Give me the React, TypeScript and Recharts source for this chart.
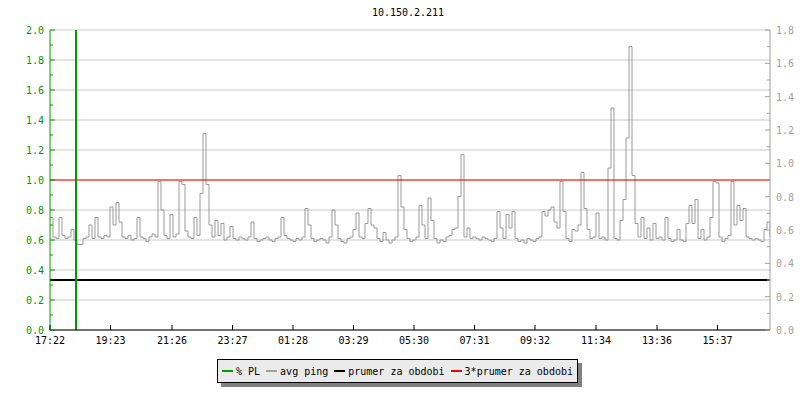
import React from "react";
import { ComposedChart, Line, XAxis, YAxis, CartesianGrid } from "recharts";

const FONT = "'DejaVu Sans Mono', monospace";
const GREEN = "#009900";
const GRAY = "#999999";
const AXIS_GRAY = "#a0a0a0";
const GRID = "#c8c8c8";
const RED = "#ff0000";
const BLACK = "#000000";

const TITLE = "10.150.2.211";

// one sample every 6 minutes, starting at 17:22
const STEP_MIN = 6;
const avgPing: number[] = [
  0.75, 0.62, 0.61, 0.75, 0.63, 0.61, 0.62, 0.67, 0.60, 0.57,
  0.57, 0.61, 0.62, 0.70, 0.61, 0.75, 0.62, 0.61, 0.63, 0.62,
  0.82, 0.70, 0.85, 0.72, 0.62, 0.61, 0.63, 0.60, 0.61, 0.75,
  0.62, 0.61, 0.59, 0.62, 0.64, 0.62, 0.99, 0.80, 0.63, 0.61,
  0.77, 0.62, 0.64, 0.99, 0.97, 0.66, 0.62, 0.61, 0.75, 0.63,
  0.91, 1.31, 0.97, 0.70, 0.62, 0.73, 0.63, 0.71, 0.60, 0.62,
  0.69, 0.61, 0.60, 0.62, 0.61, 0.60, 0.62, 0.72, 0.61, 0.59,
  0.60, 0.61, 0.62, 0.60, 0.59, 0.61, 0.62, 0.75, 0.63, 0.61,
  0.60, 0.59, 0.61, 0.60, 0.62, 0.81, 0.70, 0.61, 0.59, 0.60,
  0.61, 0.60, 0.58, 0.62, 0.80, 0.70, 0.61, 0.59, 0.58, 0.61,
  0.62, 0.67, 0.78, 0.62, 0.61, 0.71, 0.81, 0.70, 0.68, 0.61,
  0.59, 0.65, 0.60, 0.58, 0.60, 0.62, 1.03, 0.82, 0.67, 0.61,
  0.59, 0.60, 0.62, 0.83, 0.70, 0.61, 0.88, 0.73, 0.61, 0.58,
  0.60, 0.59, 0.62, 0.63, 0.67, 0.68, 0.89, 1.17, 0.62, 0.68,
  0.61, 0.62, 0.61, 0.60, 0.62, 0.61, 0.60, 0.59, 0.61, 0.79,
  0.68, 0.61, 0.77, 0.68, 0.79, 0.61, 0.59, 0.60, 0.58, 0.61,
  0.60, 0.59, 0.61, 0.62, 0.79, 0.76, 0.80, 0.82, 0.72, 0.68,
  0.99, 0.79, 0.61, 0.59, 0.67, 0.66, 0.70, 1.05, 0.81, 0.67,
  0.61, 0.62, 0.78, 0.61, 0.62, 0.60, 1.08, 1.48, 0.61, 0.60,
  0.73, 0.87, 1.28, 1.89, 1.03, 0.71, 0.62, 0.75, 0.61, 0.68,
  0.60, 0.71, 0.61, 0.62, 0.60, 0.75, 0.61, 0.59, 0.60, 0.67,
  0.60, 0.59, 0.71, 0.83, 0.71, 0.87, 0.61, 0.67, 0.60, 0.62,
  0.75, 0.99, 0.98, 0.62, 0.59, 0.61, 0.63, 0.99, 0.70, 0.83,
  0.73, 0.81, 0.62, 0.61, 0.60, 0.61, 0.60, 0.59, 0.67, 0.72,
  0.62,
];

// average for the period (right axis units) and 3x average
const prumer = 0.3;
const prumer3 = 0.9;

// packet loss event
const plTimes = [52, 52];
const plValues = [0, 2.0];

// x ticks (minutes since 17:22) and their labels
const xTickMinutes = [0, 121, 244, 365, 486, 607, 728, 849, 970, 1092, 1214, 1335];
const xTickLabels = ["17:22", "19:23", "21:26", "23:27", "01:28", "03:29", "05:30", "07:31", "09:32", "11:34", "13:36", "15:37"];

const leftTicks = [0, 0.2, 0.4, 0.6, 0.8, 1.0, 1.2, 1.4, 1.6, 1.8, 2.0];
const rightTicks = [0, 0.2, 0.4, 0.6, 0.8, 1.0, 1.2, 1.4, 1.6, 1.8];

const legendNames = ["% PL", "avg ping", "prumer za obdobi", "3*prumer za obdobi"];
const legendColors = [GREEN, "#a0a0a0", BLACK, RED];

const rows = avgPing.map((v, i) => ({
  t: i * STEP_MIN,
  ping: v,
  prumer: prumer,
  prumer3: prumer3,
}));
const plData = plTimes.map((t, i) => ({ t, pl: plValues[i] }));

const PLOT_H = 300;

const LeftTick = (props: any) => {
  const { x, y, payload } = props;
  const v = payload.value as number;
  const minor = PLOT_H / 20;
  return (
    <g>
      <line x1={x} x2={x + 5} y1={y} y2={y} stroke={GREEN} />
      {v < 2 && <line x1={x} x2={x + 3} y1={y - minor} y2={y - minor} stroke={GREEN} />}
      <text x={x - 6} y={y + 4} textAnchor="end" fill={GREEN} fontSize={10} fontFamily={FONT}>
        {v.toFixed(1)}
      </text>
    </g>
  );
};

const RightTick = (props: any) => {
  const { x, y, payload } = props;
  const v = payload.value as number;
  const minor = PLOT_H / 18;
  return (
    <g>
      <line x1={x - 5} x2={x} y1={y} y2={y} stroke={AXIS_GRAY} />
      {v < 1.75 && <line x1={x - 3} x2={x} y1={y - minor} y2={y - minor} stroke={AXIS_GRAY} />}
      <text x={x + 6} y={y + 4} textAnchor="start" fill={AXIS_GRAY} fontSize={10} fontFamily={FONT}>
        {v.toFixed(1)}
      </text>
    </g>
  );
};

const BottomTick = (props: any) => {
  const { x, y, index } = props;
  return (
    <g>
      <line x1={x} x2={x} y1={y} y2={y - 5} stroke={BLACK} />
      <text x={x} y={y + 14} textAnchor="middle" fill={BLACK} fontSize={10} fontFamily={FONT}>
        {xTickLabels[index]}
      </text>
    </g>
  );
};

export default function App() {
  return (
    <div style={{ position: "absolute", left: 0, top: 0, width: 800, height: 400, background: "#fff", fontFamily: FONT }}>
      <div
        style={{
          position: "absolute",
          left: 0,
          top: 7,
          width: 816,
          textAlign: "center",
          fontSize: 10,
          lineHeight: "12px",
          color: BLACK,
        }}
      >
        {TITLE}
      </div>
      <ComposedChart width={800} height={400} data={rows} margin={{ top: 30, right: 0, bottom: 0, left: 0 }}>
        <CartesianGrid vertical={false} stroke={GRID} />
        <XAxis
          dataKey="t"
          type="number"
          domain={[0, 1440]}
          allowDataOverflow
          ticks={xTickMinutes}
          interval={0}
          height={70}
          tickSize={0}
          tickMargin={0}
          tickLine={false}
          axisLine={{ stroke: BLACK }}
          tick={<BottomTick />}
        />
        <YAxis
          type="number"
          domain={[0, 2]}
          allowDataOverflow
          ticks={leftTicks}
          interval={0}
          width={50}
          tickSize={0}
          tickMargin={0}
          tickLine={false}
          axisLine={{ stroke: GREEN }}
          tick={<LeftTick />}
        />
        <YAxis
          yAxisId="right"
          orientation="right"
          type="number"
          domain={[0, 1.8]}
          allowDataOverflow
          ticks={rightTicks}
          interval={0}
          width={30}
          tickSize={0}
          tickMargin={0}
          tickLine={false}
          axisLine={{ stroke: AXIS_GRAY }}
          tick={<RightTick />}
        />
        <Line dataKey="ping" type="stepAfter" stroke={GRAY} strokeWidth={1} dot={false} isAnimationActive={false} />
        <Line yAxisId="right" dataKey="prumer" type="linear" stroke={BLACK} strokeWidth={2} dot={false} isAnimationActive={false} />
        <Line yAxisId="right" dataKey="prumer3" type="linear" stroke={RED} strokeWidth={1} dot={false} isAnimationActive={false} />
        <Line data={plData} dataKey="pl" type="linear" stroke={GREEN} strokeWidth={2} dot={false} isAnimationActive={false} />
      </ComposedChart>
      <div
        style={{
          position: "absolute",
          left: 217,
          top: 359,
          height: 22,
          border: "1px solid #000",
          background: "#ebebeb",
          boxShadow: "4px 4px 0 #808080",
          display: "flex",
          alignItems: "center",
          paddingLeft: 4,
          paddingRight: 4,
          fontSize: 10,
          color: BLACK,
          whiteSpace: "nowrap",
        }}
      >
        {legendNames.map((name, i) => (
          <div key={name} style={{ display: "flex", alignItems: "center", marginRight: i < legendNames.length - 1 ? 6 : 0 }}>
            <span style={{ display: "inline-block", width: 11, height: 2, background: legendColors[i], marginRight: 3 }} />
            <span>{name}</span>
          </div>
        ))}
      </div>
    </div>
  );
}
